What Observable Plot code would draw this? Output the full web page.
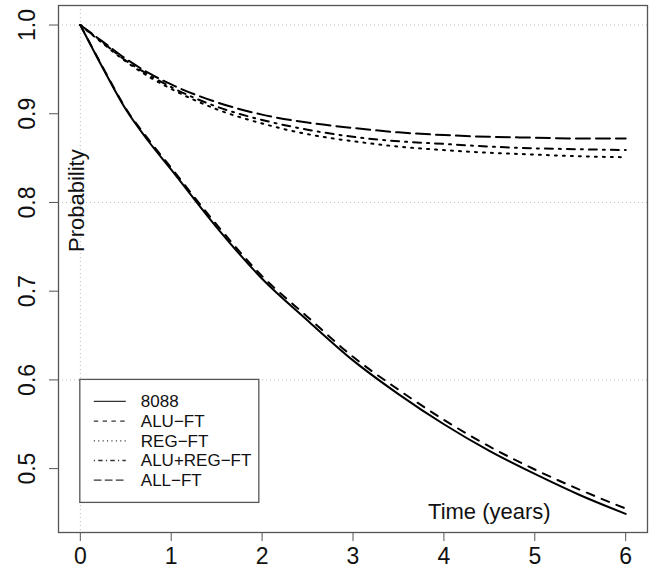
<!DOCTYPE html>
<html>
<head>
<meta charset="utf-8">
<script src="https://cdn.jsdelivr.net/npm/d3@7"></script>
<script src="https://cdn.jsdelivr.net/npm/@observablehq/plot@0.6"></script>
<style>
  html, body { margin: 0; padding: 0; background: #fff; }
  svg { font-family: "Liberation Sans", Arial, Helvetica, sans-serif; }
</style>
</head>
<body>
<div id="chart"></div>
<script>
// ---- data ----
const times = [0, 0.25, 0.5, 0.75, 1, 1.5, 2, 2.5, 3, 3.5, 4, 4.5, 5, 5.5, 6];
const s8088    = [1.0, 0.951, 0.905, 0.869, 0.837, 0.772, 0.714, 0.667, 0.622, 0.584, 0.550, 0.520, 0.494, 0.470, 0.449];
const sALU     = [1.0, 0.952, 0.906, 0.871, 0.839, 0.775, 0.717, 0.671, 0.626, 0.589, 0.555, 0.525, 0.499, 0.476, 0.455];
const sREG     = [1.0, 0.979, 0.959, 0.942, 0.928, 0.905, 0.889, 0.877, 0.869, 0.863, 0.859, 0.856, 0.854, 0.852, 0.851];
const sALUREG  = [1.0, 0.980, 0.960, 0.944, 0.930, 0.908, 0.893, 0.882, 0.874, 0.869, 0.866, 0.863, 0.861, 0.860, 0.859];
const sALL     = [1.0, 0.981, 0.962, 0.946, 0.933, 0.913, 0.899, 0.890, 0.884, 0.879, 0.876, 0.874, 0.873, 0.872, 0.872];

const seriesNames = ["8088", "ALU\u2212FT", "REG\u2212FT", "ALU+REG\u2212FT", "ALL\u2212FT"];
const seriesValues = [s8088, sALU, sREG, sALUREG, sALL];
const dashes = [null, "8 8", "2 6", "2 6 8 6", "14 6"];

const xTicks = [0, 1, 2, 3, 4, 5, 6];
const yTicks = [0.5, 0.6, 0.7, 0.8, 0.9, 1.0];
const gridY = [0.6, 0.8, 1.0];
const gridX = [0];
const xLabel = {text: "Time (years)", x: 4.5, y: 0.451};
const yLabel = {text: "Probability", x: -0.035, y: 0.802};
const legendAnchor = {x: 0, y: 0.6};

// ---- build table ----
const data = seriesNames.flatMap((name, i) =>
  times.map((t, j) => ({series: name, idx: i, t, p: seriesValues[i][j]})));

const font = 23;

function legendMark(index, scales, values, dimensions, context) {
  const doc = context.document;
  const ns = "http://www.w3.org/2000/svg";
  const x0 = scales.x(legendAnchor.x), y0 = scales.y(legendAnchor.y);
  const g = doc.createElementNS(ns, "g");
  const rect = doc.createElementNS(ns, "rect");
  rect.setAttribute("x", x0); rect.setAttribute("y", y0);
  rect.setAttribute("width", 179); rect.setAttribute("height", 123);
  rect.setAttribute("fill", "white"); rect.setAttribute("stroke", "#555");
  rect.setAttribute("stroke-width", 1.3);
  g.appendChild(rect);
  seriesNames.forEach((name, i) => {
    const yy = y0 + 22 + i * 19.7;
    const ln = doc.createElementNS(ns, "line");
    ln.setAttribute("x1", x0 + 14); ln.setAttribute("x2", x0 + 46);
    ln.setAttribute("y1", yy); ln.setAttribute("y2", yy);
    ln.setAttribute("stroke", "#333"); ln.setAttribute("stroke-width", 1.3);
    if (dashes[i]) ln.setAttribute("stroke-dasharray", dashes[i].split(" ").map(d => d * 0.55).join(" "));
    g.appendChild(ln);
    const tx = doc.createElementNS(ns, "text");
    tx.setAttribute("x", x0 + 61); tx.setAttribute("y", yy);
    tx.setAttribute("dy", "0.35em");
    tx.setAttribute("text-anchor", "start");
    tx.setAttribute("font-size", 17);
    tx.setAttribute("fill", "#111");
    tx.textContent = name;
    g.appendChild(tx);
  });
  return g;
}

const chart = Plot.plot({
  width: 651,
  height: 573,
  marginLeft: 58,
  marginRight: 4,
  marginTop: 5,
  marginBottom: 41,
  style: {fontFamily: '"Liberation Sans", Arial, Helvetica, sans-serif', background: "white"},
  x: {domain: [-0.24, 6.24]},
  y: {domain: [0.428, 1.022]},
  marks: [
    Plot.ruleY(gridY, {stroke: "#bbb", strokeDasharray: "1 3", strokeWidth: 1}),
    Plot.ruleX(gridX, {stroke: "#bbb", strokeDasharray: "1 3", strokeWidth: 1}),
    legendMark,
    ...seriesNames.map((name, i) =>
      Plot.line(data.filter(d => d.idx === i), {
        x: "t", y: "p", stroke: "black", strokeWidth: 2,
        strokeDasharray: dashes[i] ?? undefined, curve: "monotone-x"
      })),
    Plot.frame({stroke: "#555", strokeWidth: 1.3}),
    Plot.axisX(xTicks, {tickSize: 9, tickPadding: 6, fontSize: font, label: null, stroke: "#555", fill: "#111", tickFormat: d => String(d)}),
    Plot.axisY(yTicks, {tickSize: 9, fontSize: font, label: null, stroke: "#555", tickFormat: () => ""}),
    Plot.text(yTicks, {y: d => d, frameAnchor: "left", dx: -31, rotate: -90, text: d3.format(".1f"), fontSize: font, fill: "#111", lineAnchor: "middle", textAnchor: "middle"}),
    Plot.text([xLabel], {x: "x", y: "y", text: "text", fontSize: 22, fill: "#111"}),
    Plot.text([yLabel], {x: "x", y: "y", text: "text", fontSize: 22, rotate: -90, fill: "#111"})
  ]
});
document.getElementById("chart").appendChild(chart);
</script>
</body>
</html>
